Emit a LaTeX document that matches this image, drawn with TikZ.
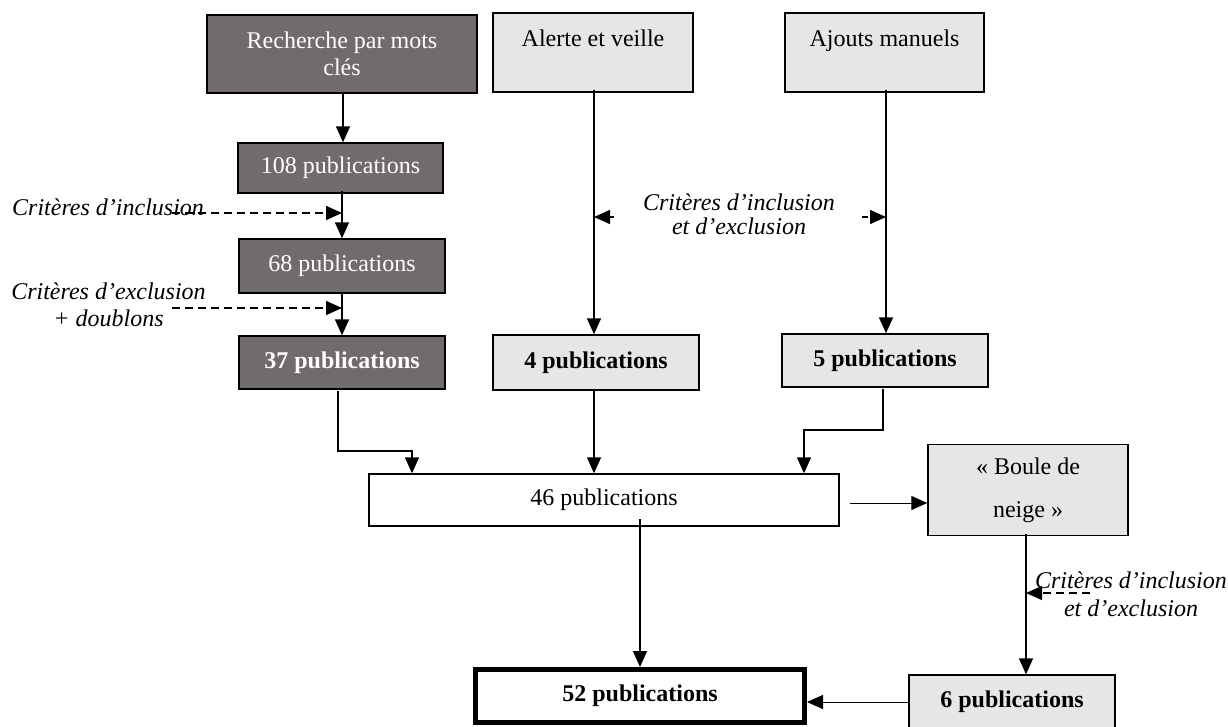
\documentclass[tikz,border=0pt]{standalone}
\usepackage{fontspec}
\setmainfont{Liberation Serif}
\usetikzlibrary{arrows.meta,calc}
\definecolor{darkbox}{HTML}{716C6B}
\definecolor{lightbox}{HTML}{E6E6E6}
\tikzset{
  box/.style={draw=black, line width=1.4pt, inner sep=0pt, align=center,
              font=\fontsize{24}{27.5}\selectfont},
  darkb/.style={box, fill=darkbox, text=white},
  lightb/.style={box, fill=lightbox},
  arr/.style={-{Triangle[length=16pt,width=14pt]}, line width=1.5pt},
  thinarr/.style={-{Triangle[length=16pt,width=14pt]}, line width=1pt},
  darr/.style={arr, dash pattern=on 8pt off 5pt},
  lbl/.style={font=\fontsize{24}{27}\selectfont\itshape, align=center, inner sep=0pt}
}
\begin{document}
\begin{tikzpicture}[x=1pt,y=-1pt]
\useasboundingbox (0,0) rectangle (1228,727);
% boxes
\node[darkb, minimum width=270pt, minimum height=78pt] (rech) at (342,54) {Recherche par mots\\clés};
\node[lightb, minimum width=200pt, minimum height=79pt] (alerte) at (593,52.5) {Alerte et veille\\[-8pt]\strut};
\node[lightb, minimum width=199pt, minimum height=79pt] (ajouts) at (884.5,52.5) {Ajouts manuels\\[-8pt]\strut};
\node[darkb, minimum width=205pt, minimum height=50pt] (p108) at (340.5,168) {108 publications};
\node[darkb, minimum width=206pt, minimum height=54pt] (p68) at (342,266) {68 publications};
\node[darkb, minimum width=206pt, minimum height=53pt] (p37) at (342,362.5) {\bfseries 37 publications};
\node[lightb, minimum width=206pt, minimum height=55pt] (p4) at (596,362.5) {\bfseries 4 publications};
\node[lightb, minimum width=206pt, minimum height=53pt] (p5) at (885,360.5) {\bfseries 5 publications};
\node[box, fill=white, minimum width=470pt, minimum height=52pt] (p46) at (604,500) {46 publications};
\node[lightb, minimum width=200pt, minimum height=91pt, font=\fontsize{24}{43}\selectfont] (boule) at (1028,490) {« Boule de\\neige »};
\node[box, line width=5pt, fill=white, minimum width=329pt, minimum height=53pt] (p52) at (640,696) {\bfseries 52 publications};
\node[lightb, minimum width=206pt, minimum height=54pt] (p6) at (1012,702) {\bfseries 6 publications};
% labels
\node[lbl, anchor=west] (l1) at (12,207) {Critères d’inclusion};
\node[lbl] (l2) at (108.5,304.5) {Critères d’exclusion\\+ doublons};
\node[lbl, font=\fontsize{24}{24}\selectfont\itshape] (l3) at (739,214) {Critères d’inclusion\\et d’exclusion};
\node[lbl, font=\fontsize{24}{28}\selectfont\itshape] (l4) at (1131,594) {Critères d’inclusion\\et d’exclusion};
% coordinates
\coordinate (c37a) at (338,391);
\coordinate (c37b) at (338,451);
\coordinate (c37c) at (412,451);
\coordinate (c5a) at (883,389);
\coordinate (c5b) at (883,430);
\coordinate (c5c) at (804,430);
\coordinate (s46) at (850,503);
\coordinate (b46) at (640,519);
\coordinate (ra) at (343,93);
\coordinate (aa) at (594,90);
\coordinate (ja) at (886,90);
\coordinate (pa) at (594,390);
\coordinate (ba) at (1026,534);
\coordinate (d1s) at (172,213);
\coordinate (d1e) at (342,213);
\coordinate (d2s) at (172,308);
\coordinate (d2e) at (342,308);
\coordinate (d3s) at (614,217);
\coordinate (d3e) at (594,217);
\coordinate (d4s) at (862,217);
\coordinate (d4e) at (886,217);
\coordinate (d5s) at (1090,593);
\coordinate (d5e) at (1026,593);
% connectors
\draw[arr] (ra) -- (ra |- p108.north);
\draw[arr] (p68.north |- p108.south) ++(0,-3) -- (p68.north);
\draw[arr] (p37.north |- p68.south) -- (p37.north);
\draw[arr] (c37a) -- (c37b) -- (c37c) -- (c37c |- p46.north);
\draw[arr] (aa) -- (aa |- p4.north);
\draw[arr] (ja) -- (ja |- p5.north);
\draw[arr] (pa) -- (pa |- p46.north);
\draw[arr] (c5a) -- (c5b) -- (c5c) -- (c5c |- p46.north);
\draw[thinarr] (s46) -- (s46 -| boule.west);
\draw[arr] (b46) -- (b46 |- p52.north);
\draw[arr] (ba) -- (ba |- p6.north);
\draw[thinarr] (p6.west) -- (p6.west -| p52.east);
% dashed criteria arrows
\draw[darr] (d1s) -- (d1e);
\draw[darr] (d2s) -- (d2e);
\draw[arr, dash pattern=on 6pt off 4pt] (d3s) -- (d3e);
\draw[arr, dash pattern=on 6pt off 4pt] (d4s) -- (d4e);
\draw[darr] (d5s) -- (d5e);
\end{tikzpicture}
\end{document}
